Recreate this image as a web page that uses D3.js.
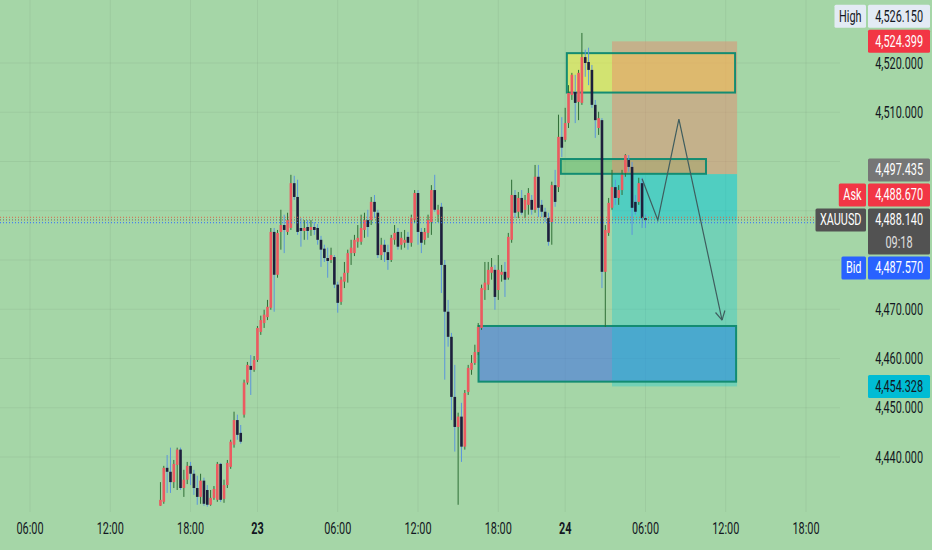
<!DOCTYPE html>
<html>
<head>
<meta charset="utf-8">
<title>XAUUSD 15m</title>
<script src="https://d3js.org/d3.v7.min.js"></script>
<style>
  body { margin: 0; background: #a5d6a7; }
  svg { display: block; }
</style>
</head>
<body>
<script>
// time axis: bar slot of each label (15 min bars, market shut one hour before midnight)
var tickBars   = [0, 24, 48, 68, 92, 116, 140, 160, 184, 208, 232];
var tickLabels = ["06:00", "12:00", "18:00", "23", "06:00", "12:00", "18:00", "24", "06:00", "12:00", "18:00"];
var priceTicks = [4440, 4450, 4460, 4470, 4480, 4490, 4500, 4510, 4520];

// candles, first one sits on bar 39
var firstBar = 39;
var opens = [4430.1,4430.9,4437.8,4437.0,4434.9,4438.4,4441.5,4433.7,4435.4,4438.2,
  4436.6,4433.7,4431.9,4435.2,4433.3,4430.3,4431.7,4431.3,4438.6,4431.5,
  4434.3,4438.0,4442.5,4447.5,4444.9,4448.6,4455.1,4458.5,4457.7,4459.7,
  4465.4,4467.2,4468.4,4470.3,4485.7,4477.0,4485.7,4487.1,4485.7,4486.5,
  4495.6,4492.8,4486.5,4485.9,4486.7,4486.1,4486.7,4486.5,4484.1,4482.3,
  4480.4,4480.0,4480.6,4475.0,4471.5,4475.6,4477.4,4481.4,4481.4,4483.7,
  4483.7,4486.1,4488.1,4488.1,4491.8,4489.6,4481.0,4483.1,4481.6,4480.0,
  4484.1,4485.7,4483.1,4483.5,4484.7,4483.5,4488.1,4493.6,4485.7,4484.1,
  4485.5,4487.7,4494.2,4489.2,4490.8,4479.0,4469.5,4464.4,4452.2,4446.1,
  4448.2,4442.1,4453.2,4457.7,4459.1,4461.3,4466.2,4473.9,4475.0,4477.4,
  4478.0,4473.9,4477.0,4477.6,4476.4,4484.1,4493.2,4489.8,4492.6,4490.2,
  4491.2,4492.2,4490.2,4496.9,4491.2,4489.8,4488.5,4487.7,4495.2,4494.8,
  4505.0,4504.4,4507.8,4513.5,4514.1,4512.1,4511.9,4521.2,4520.2,4518.6,
  4511.5,4506.8,4508.4,4477.6,4485.5,4490.6,4494.8,4492.6,4494.2,4497.7,
  4500.3,4498.9,4491.8,4491.8,4495.6,4488.5];
var highs = [4434.9,4438.2,4440.4,4441.9,4439.4,4441.9,4441.9,4437.4,4439.0,4439.0,
  4437.4,4436.2,4436.6,4435.8,4434.3,4433.3,4434.1,4439.0,4438.8,4435.4,
  4439.4,4443.5,4449.2,4448.6,4446.5,4455.7,4459.3,4460.7,4460.5,4466.6,
  4468.7,4469.9,4471.9,4486.5,4486.5,4486.1,4490.2,4489.2,4489.6,4497.3,
  4497.1,4496.3,4488.5,4488.1,4488.1,4488.1,4487.7,4487.3,4484.9,4483.1,
  4482.5,4482.5,4481.0,4475.6,4476.6,4479.6,4482.1,4484.1,4485.1,4487.1,
  4489.2,4489.6,4490.2,4492.8,4493.2,4490.2,4484.5,4484.1,4483.1,4485.1,
  4487.1,4486.5,4485.7,4486.1,4485.7,4489.2,4494.2,4494.2,4486.5,4486.5,
  4489.2,4495.2,4497.3,4491.2,4491.6,4480.0,4471.9,4465.2,4458.7,4449.0,
  4451.0,4453.6,4458.7,4460.7,4462.8,4467.2,4475.0,4479.6,4479.6,4480.4,
  4479.0,4481.0,4479.0,4479.6,4485.5,4496.3,4494.2,4493.8,4494.2,4493.2,
  4494.6,4493.2,4499.3,4499.3,4492.2,4490.6,4489.6,4495.9,4498.3,4509.5,
  4509.0,4510.9,4515.5,4518.0,4517.6,4518.6,4526.1,4522.7,4523.1,4519.6,
  4512.5,4510.1,4508.8,4487.1,4492.6,4498.3,4496.3,4495.2,4498.3,4501.5,
  4501.3,4499.9,4493.2,4496.7,4496.7,4489.2];
var lows = [4430.1,4430.5,4432.7,4432.7,4433.7,4433.3,4433.3,4431.9,4434.5,4434.3,
  4432.3,4430.3,4430.5,4430.1,4429.9,4430.1,4431.3,4430.9,4430.9,4430.7,
  4433.7,4437.6,4441.9,4443.5,4442.7,4448.0,4454.7,4452.6,4457.3,4459.3,
  4464.8,4466.2,4467.8,4469.9,4469.5,4476.4,4482.1,4481.4,4485.1,4486.1,
  4492.2,4485.1,4482.7,4484.1,4484.1,4484.9,4485.1,4483.1,4478.6,4479.6,
  4476.4,4479.4,4474.3,4469.3,4470.9,4474.3,4475.4,4479.0,4480.8,4482.5,
  4483.1,4484.5,4484.7,4487.1,4488.5,4480.4,4480.0,4479.6,4478.0,4479.6,
  4483.1,4482.1,4482.1,4482.5,4482.1,4482.7,4487.5,4483.1,4481.4,4483.1,
  4484.5,4485.1,4489.8,4487.7,4473.3,4455.7,4462.4,4447.5,4441.1,4430.3,
  4439.0,4441.5,4452.6,4456.7,4458.7,4460.7,4465.8,4471.9,4473.9,4476.0,
  4469.9,4471.9,4475.6,4472.5,4476.0,4483.5,4488.5,4488.5,4489.2,4488.5,
  4489.2,4489.2,4489.6,4488.7,4488.7,4487.7,4482.9,4483.1,4490.8,4493.8,
  4500.9,4504.0,4506.8,4512.5,4507.8,4508.4,4511.5,4517.2,4515.5,4510.9,
  4504.8,4505.4,4474.3,4466.4,4484.9,4490.2,4491.2,4491.2,4493.2,4496.9,
  4497.9,4485.1,4489.2,4491.2,4486.5,4486.5];
var closes = [4431.3,4437.8,4437.0,4434.9,4438.6,4441.5,4433.7,4435.4,4438.2,4436.6,
  4433.7,4431.9,4435.2,4430.5,4430.3,4431.7,4433.5,4438.6,4431.3,4434.3,
  4438.8,4443.1,4447.5,4444.5,4443.1,4455.1,4458.7,4457.7,4459.7,4466.2,
  4467.8,4468.9,4470.5,4485.7,4477.0,4485.5,4487.1,4486.1,4488.1,4495.6,
  4492.8,4485.7,4485.9,4486.5,4485.9,4486.7,4486.1,4484.1,4482.1,4480.4,
  4479.8,4481.0,4475.0,4471.3,4476.0,4477.4,4481.4,4482.5,4484.1,4484.5,
  4486.5,4488.1,4486.7,4491.8,4489.8,4481.0,4483.1,4481.6,4480.0,4484.5,
  4485.5,4482.7,4484.5,4484.1,4483.5,4488.5,4493.6,4485.7,4483.5,4485.7,
  4488.1,4494.2,4490.2,4490.2,4479.0,4469.5,4464.4,4452.2,4446.1,4448.2,
  4442.1,4453.0,4458.1,4459.1,4461.3,4466.4,4474.3,4475.4,4478.0,4478.6,
  4472.5,4478.0,4477.6,4476.0,4484.7,4493.2,4489.6,4492.6,4489.6,4492.2,
  4493.6,4490.2,4496.9,4490.6,4489.8,4488.7,4483.7,4495.2,4491.8,4505.0,
  4502.8,4507.8,4513.9,4517.6,4511.9,4518.0,4521.2,4520.0,4518.6,4511.5,
  4508.4,4508.8,4477.6,4486.1,4491.6,4494.8,4492.6,4494.2,4497.3,4501.3,
  4498.9,4490.6,4489.8,4495.6,4488.5,4488.1];

// drawn zones: [from bar, to bar, top price, bottom price]
var supplyZone = [160.5, 210.8, 4522.0, 4514.0];
var retestZone = [158.7, 202.1, 4500.5, 4497.5];
var demandZone = [134.1, 211.1, 4466.6, 4455.3];

// short position tool
var positionBars = [174, 211.4];
var stopPrice = 4524.399, entryPrice = 4497.435, targetPrice = 4454.328;
var askPrice = 4488.670, lastPrice = 4488.140, bidPrice = 4487.570;

// projected path
var pathBars   = [183, 187.7, 194, 206.9];
var pathPrices = [4496.5, 4488.1, 4508.6, 4467.8];

// right scale badges
var badgePrices = [4526.150, 4524.399, 4497.435, 4488.670, 4488.140, 4487.570, 4454.328];
var badgeTags   = ["High", "", "", "Ask", "XAUUSD", "Bid", ""];
var badgeSub    = ["", "", "", "", "09:18", "", ""];

var W = 932, H = 550;
var bg = "#a5d6a7";

var x = d3.scaleLinear().domain([0, 232]).range([30, 806]);
var y = d3.scaleLinear().domain([4440, 4520]).range([457, 63]);
var fmt = d3.format(",.3f");

var svg = d3.select("body").append("svg").attr("width", W).attr("height", H);
svg.append("rect").attr("width", W).attr("height", H).attr("fill", bg);

// helper for the narrow chart font
function txt(sel, px, py, s, anchor, color, weight) {
    return sel.append("text")
        .attr("transform", "translate(" + px + "," + py + ") scale(0.68,1)")
        .attr("text-anchor", anchor)
        .attr("font-family", "Roboto, 'Noto Sans', sans-serif")
        .attr("font-size", 16)
        .attr("font-weight", weight || "normal")
        .attr("fill", color)
        .text(s);
}

//grid
var grid = svg.append("g").attr("stroke", "rgba(0,0,0,0.05)").attr("stroke-width", 1);
grid.selectAll(".v").data(tickBars).enter().append("line")
    .attr("x1", function(d){ return x(d); }).attr("x2", function(d){ return x(d); })
    .attr("y1", 0).attr("y2", 512);
grid.selectAll(".h").data(priceTicks).enter().append("line")
    .attr("x1", 0).attr("x2", 840)
    .attr("y1", function(d){ return y(d); }).attr("y2", function(d){ return y(d); });

//zone fills
var zones = [
    {z: supplyZone, fill: "rgba(255,240,60,0.5)"},
    {z: retestZone, fill: "rgba(76,175,80,0.35)"},
    {z: demandZone, fill: "rgba(60,110,230,0.55)"}
];
svg.append("g").selectAll("rect").data(zones).enter().append("rect")
    .attr("x", function(d){ return x(d.z[0]); })
    .attr("width", function(d){ return x(d.z[1]) - x(d.z[0]); })
    .attr("y", function(d){ return y(d.z[2]); })
    .attr("height", function(d){ return y(d.z[3]) - y(d.z[2]); })
    .attr("fill", function(d){ return d.fill; });

//position box
var pos = svg.append("g");
var px0 = x(positionBars[0]), pw = x(positionBars[1]) - x(positionBars[0]);
pos.append("rect").attr("x", px0).attr("width", pw)
    .attr("y", y(stopPrice)).attr("height", y(entryPrice) - y(stopPrice))
    .attr("fill", "rgba(234,134,107,0.45)");
pos.append("rect").attr("x", px0).attr("width", pw)
    .attr("y", y(entryPrice)).attr("height", y(targetPrice) - y(entryPrice))
    .attr("fill", "rgba(0,200,220,0.3)");
pos.append("rect").attr("x", px0).attr("width", pw)
    .attr("y", y(entryPrice)).attr("height", y(lastPrice) - y(entryPrice))
    .attr("fill", "rgba(0,200,220,0.3)");

//zone borders
svg.append("g").selectAll("rect").data(zones).enter().append("rect")
    .attr("x", function(d){ return x(d.z[0]); })
    .attr("width", function(d){ return x(d.z[1]) - x(d.z[0]); })
    .attr("y", function(d){ return y(d.z[2]); })
    .attr("height", function(d){ return y(d.z[3]) - y(d.z[2]); })
    .attr("fill", "none")
    .attr("stroke", "#138c72")
    .attr("stroke-width", 2);

//candles
var candles = opens.map(function(o, i){
    return {bar: firstBar + i, o: o, h: highs[i], l: lows[i], c: closes[i]};
});
var cg = svg.append("g");
cg.selectAll("line").data(candles).enter().append("line")
    .attr("x1", function(d){ return x(d.bar); }).attr("x2", function(d){ return x(d.bar); })
    .attr("y1", function(d){ return y(d.h); }).attr("y2", function(d){ return y(d.l); })
    .attr("stroke", function(d){ return d.c >= d.o ? "#2f6e36" : "#5b95dc"; })
    .attr("stroke-width", 1);
cg.selectAll("rect").data(candles).enter().append("rect")
    .attr("x", function(d){ return x(d.bar) - 1.3; })
    .attr("width", 2.6)
    .attr("y", function(d){ return y(Math.max(d.o, d.c)); })
    .attr("height", function(d){ return Math.max(1, Math.abs(y(d.o) - y(d.c))); })
    .attr("fill", function(d){ return d.c >= d.o ? "#ec5a60" : "#1d1f3c"; });

//ask / last / bid dotted lines
var lines = [
    {p: askPrice, c: "#d9674a"},
    {p: lastPrice, c: "#7a6a55"},
    {p: bidPrice, c: "#2f6bff"}
];
svg.append("g").selectAll("line").data(lines).enter().append("line")
    .attr("x1", 0).attr("x2", 840)
    .attr("y1", function(d){ return y(d.p); }).attr("y2", function(d){ return y(d.p); })
    .attr("stroke", function(d){ return d.c; })
    .attr("stroke-width", 1)
    .attr("stroke-dasharray", "1,2");

//projected path with arrow
var pts = pathBars.map(function(b, i){ return [x(b), y(pathPrices[i])]; });
svg.append("path")
    .attr("d", d3.line()(pts))
    .attr("fill", "none").attr("stroke", "#3f5d5e").attr("stroke-width", 1.2);
var tip = pts[pts.length - 1], prev = pts[pts.length - 2];
var ang = Math.atan2(tip[1] - prev[1], tip[0] - prev[0]);
[-0.5, 0.5].forEach(function(a){
    svg.append("line")
        .attr("x1", tip[0]).attr("y1", tip[1])
        .attr("x2", tip[0] - 10 * Math.cos(ang + a)).attr("y2", tip[1] - 10 * Math.sin(ang + a))
        .attr("stroke", "#3f5d5e").attr("stroke-width", 1.2);
});

//time axis
tickBars.forEach(function(b, i){
    var bold = tickLabels[i].length < 3;
    txt(svg, x(b), 533.5, tickLabels[i], "middle", "#131722", bold ? "bold" : "normal");
});

//badges, stacked around the last price badge
var bh = 23, gap = 2;
var lastIdx = badgeSub.indexOf("09:18");
var centers = badgePrices.map(function(p){ return y(p); });
var tops = [], bots = [];
tops[lastIdx] = centers[lastIdx] - bh / 2;
bots[lastIdx] = tops[lastIdx] + 2 * bh;
for (var i = lastIdx - 1; i >= 0; i--) {
    var c = Math.min(centers[i], tops[i + 1] - gap - bh / 2);
    tops[i] = c - bh / 2; bots[i] = c + bh / 2;
}
for (var j = lastIdx + 1; j < badgePrices.length; j++) {
    var c2 = Math.max(centers[j], bots[j - 1] + gap + bh / 2);
    tops[j] = c2 - bh / 2; bots[j] = c2 + bh / 2;
}

//price axis, labels hidden where a badge covers them
priceTicks.forEach(function(p){
    var ty = y(p);
    var covered = tops.some(function(t, k){ return ty + 7 > t && ty - 7 < bots[k]; });
    if (!covered) txt(svg, 923, ty + 5.5, fmt(p), "end", "#131722");
});

var badgeFill = ["#e3ebf4", "#f23645", "#767676", "#f23645", "#525252", "#2962ff", "#00bcd4"];
var badgeText = ["#131722", "#ffffff", "#ffffff", "#ffffff", "#ffffff", "#ffffff", "#131722"];
var bg2 = svg.append("g");
badgePrices.forEach(function(p, i){
    var hgt = bots[i] - tops[i];
    bg2.append("rect").attr("x", 868).attr("y", tops[i]).attr("width", 62).attr("height", hgt)
        .attr("rx", 1.5).attr("fill", badgeFill[i]);
    txt(bg2, 923, tops[i] + bh / 2 + 5.5, fmt(p), "end", badgeText[i]);
    if (badgeSub[i]) txt(bg2, 899, tops[i] + bh * 1.5 + 5, badgeSub[i], "middle", "#e0e0e0");
    if (badgeTags[i]) {
        var t = txt(bg2, 0, 0, badgeTags[i], "middle", badgeText[i]);
        var tw = t.node().getComputedTextLength() * 0.68 + 9;
        bg2.insert("rect", "text").attr("x", 866 - tw).attr("y", tops[i]).attr("width", tw).attr("height", bh)
            .attr("rx", 1.5).attr("fill", badgeFill[i]);
        t.attr("transform", "translate(" + (866 - tw / 2) + "," + (tops[i] + bh / 2 + 5.5) + ") scale(0.68,1)");
    }
});
</script>
</body>
</html>
